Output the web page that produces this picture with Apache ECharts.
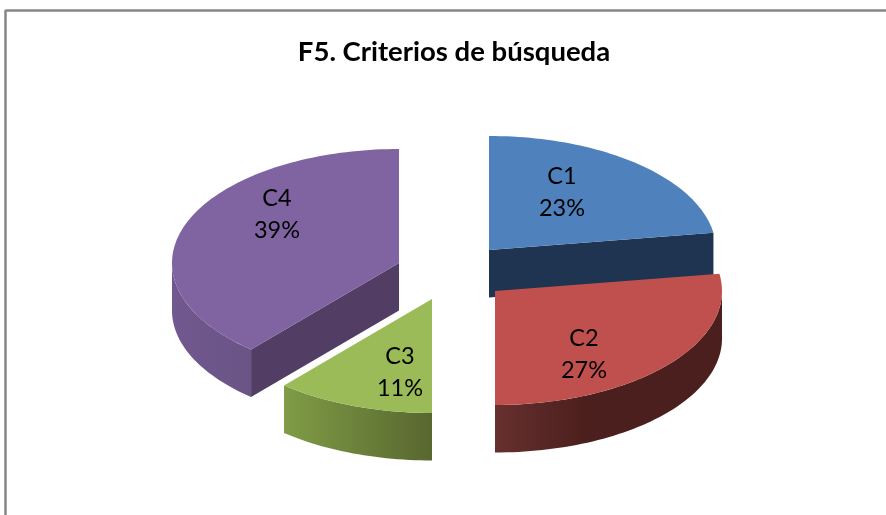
<!DOCTYPE html>
<html>
<head>
<meta charset="utf-8">
<style>
  html, body { margin: 0; padding: 0; background: #fff; }
  #chart { width: 886px; height: 515px; }
</style>
<script src="https://cdn.jsdelivr.net/npm/echarts@6/dist/echarts.min.js"></script>
</head>
<body>
<div id="chart"></div>
<script>
// datos
var categories = ['C1', 'C2', 'C3', 'C4']
var values = [22.6, 27.4, 11.3, 38.7]

var titleText = 'F5. Criterios de búsqueda'

var topColors = ['#4f81bd', '#c0504d', '#9bbb59', '#8064a2']
var edgeColors = ['#1f3450', '#4b1f1d', '#5a6a33', '#523e65']
var wallStops = [
  [[0, '#3a5f8c'], [1, '#3a5f8c']],
  [[0, '#66302e'], [0.4, '#4b1f1d'], [1, '#4b1f1d']],
  [[0, '#7f9c46'], [1, '#58672f']],
  [[0, '#71588f'], [1, '#6a5485']]
]

// vertice de cada porcion (separadas) y desplazamiento de su etiqueta
var apex = [[489, 250], [495, 291], [432, 299], [399, 263]]
var labelShift = [[73, -58], [89, 63], [-32, 73], [-122, -49]]
var RX = 227
var RY = 114
var DEPTH = 47.5

var total = values.reduce(function(a, b) { return a + b }, 0)
var seriesData = []
var acc = 0
for (var i = 0; i < values.length; i++) {
  seriesData.push([acc, acc + values[i], i])
  acc += values[i]
}

function point(c, deg, down) {
  var r = deg * Math.PI / 180
  return [c[0] + RX * Math.sin(r), c[1] - RY * Math.cos(r) + (down || 0)]
}

function arc(c, from, to, down) {
  var pts = []
  var n = Math.max(2, Math.ceil(Math.abs(to - from) / 1.5))
  for (var k = 0; k <= n; k++) {
    pts.push(point(c, from + (to - from) * k / n, down))
  }
  return pts
}

function renderItem(params, api) {
  var start = api.value(0) / total * 360
  var end = api.value(1) / total * 360
  var idx = api.value(2)
  var c = apex[idx]
  var children = []

  // pared curva, solo la parte frontal (90 a 270 grados)
  var from = Math.max(start, 90)
  var to = Math.min(end, 270)
  if (to > from) {
    children.push({
      type: 'polygon',
      shape: { points: arc(c, from, to, 0).concat(arc(c, to, from, DEPTH)) },
      style: {
        fill: new echarts.graphic.LinearGradient(0, 0, 1, 0, wallStops[idx].map(function(s) {
          return { offset: s[0], color: s[1] }
        }))
      }
    })
  }

  // paredes planas que miran al frente
  var edges = []
  if (Math.sin(start * Math.PI / 180) < -0.001) edges.push(start)
  if (Math.sin(end * Math.PI / 180) > 0.001) edges.push(end)
  edges.forEach(function(deg) {
    var p = point(c, deg)
    children.push({
      type: 'polygon',
      shape: { points: [c, p, [p[0], p[1] + DEPTH], [c[0], c[1] + DEPTH]] },
      style: { fill: edgeColors[idx] }
    })
  })

  // cara superior
  children.push({
    type: 'polygon',
    shape: { points: [c].concat(arc(c, start, end, 0)) },
    style: { fill: topColors[idx] }
  })

  children.push({
    type: 'text',
    style: {
      x: c[0] + labelShift[idx][0],
      y: c[1] + labelShift[idx][1],
      text: categories[idx] + '\n' + Math.round(values[idx] / total * 100) + '%',
      fill: '#000',
      font: '23.5px Lato',
      lineHeight: 32,
      align: 'center',
      verticalAlign: 'middle'
    }
  })

  return { type: 'group', children: children }
}

var myChart = echarts.init(document.getElementById('chart'), null, { renderer: 'canvas' })
var option = {
  backgroundColor: '#ffffff',
  animation: false,
  title: {
    text: titleText,
    left: 449,
    top: 33,
    textAlign: 'center',
    textStyle: {
      fontFamily: 'Lato',
      fontSize: 27.5,
      fontWeight: 'bold',
      color: '#000'
    }
  },
  graphic: [
    { type: 'line', shape: { x1: 5.5, y1: 10.5, x2: 886, y2: 10.5 }, style: { stroke: '#868686', lineWidth: 2.5 } },
    { type: 'line', shape: { x1: 5.5, y1: 10, x2: 5.5, y2: 515 }, style: { stroke: '#868686', lineWidth: 2.5 } }
  ],
  series: [{
    type: 'custom',
    coordinateSystem: 'none',
    renderItem: renderItem,
    data: seriesData
  }]
}
myChart.setOption(option, true)
window.addEventListener('resize', function() {
  myChart.resize()
})
</script>
</body>
</html>
